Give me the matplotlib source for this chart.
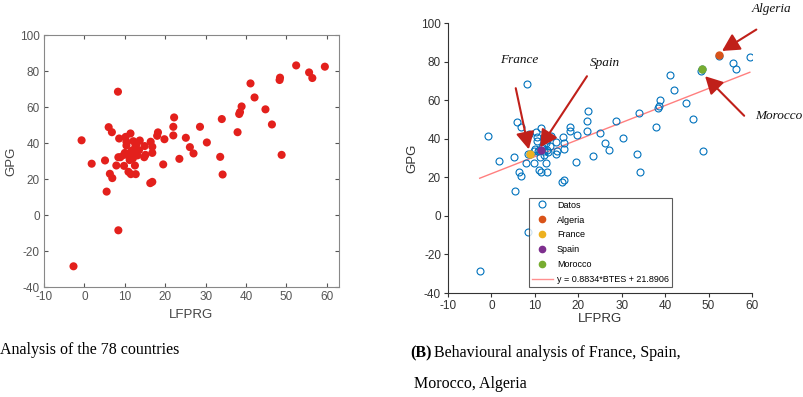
import matplotlib.pyplot as plt
from matplotlib.lines import Line2D

plt.rcParams['font.family'] = ['Liberation Sans', 'DejaVu Sans']
plt.rcParams['axes.unicode_minus'] = False

# LFPRG / GPG values for the 78 countries
lfprg = [-2.7, -0.7, 1.8, 5.1, 5.5, 6.0, 6.8, 6.3, 6.9, 8.3,
         8.4, 8.6, 8.4, 7.9, 8.9, 9.8, 9.8, 10.2, 10.4, 10.4,
         10.7, 10.9, 11.4, 11.2, 11.5, 12.1, 12.1, 12.6, 12.5, 12.7,
         12.9, 13.1, 13.7, 12.9, 11.7, 14.9, 14.8, 15.1, 16.3, 16.8,
         16.4, 16.8, 16.8, 18.0, 18.2, 19.5, 19.8, 22.0, 22.0, 22.2,
         23.5, 25.1, 26.1, 27.0, 28.6, 30.3, 33.6, 34.0, 34.2, 37.9,
         38.3, 38.5, 38.9, 41.1, 42.1, 44.8, 46.4, 48.3, 48.4, 48.8,
         52.4, 55.6, 56.4, 59.5, 10.0, 11.0, 13.5, 12.0]
gpg = [-28.5, 41.5, 28.5, 30.3, 13.0, 48.8, 46.0, 22.9, 20.5, 68.5,
       -8.5, 42.5, 32.1, 27.5, 32.1, 33.4, 27.3, 43.4, 40.7, 38.6,
       33.4, 24.0, 45.3, 30.5, 22.7, 33.4, 41.0, 37.9, 27.5, 22.7,
       34.0, 33.1, 41.4, 39.4, 35.7, 38.3, 32.1, 33.4, 17.7, 18.4,
       40.7, 37.9, 34.5, 44.0, 45.9, 28.1, 42.1, 49.0, 44.2, 54.2,
       31.2, 42.9, 37.7, 34.2, 49.0, 40.3, 32.3, 53.3, 22.5, 46.0,
       56.1, 57.2, 60.3, 73.1, 65.3, 58.7, 50.3, 75.0, 76.3, 33.4,
       83.1, 79.2, 76.1, 82.4, 34.5, 34.0, 36.0, 31.5]

countries = ['Algeria', 'France', 'Spain', 'Morocco']
country_x = [52.5, 8.8, 11.3, 48.5]
country_y = [83.6, 31.9, 33.9, 76.4]
country_colors = ['#D95319', '#EDB120', '#7E2F8E', '#77AC30']

slope = 0.8834
intercept = 21.8906

W, H = 804, 397
fig = plt.figure(figsize=(W / 100, H / 100), dpi=100)


def fx(px):
    return px / W


def fy(py):
    return 1 - py / H


# ---- (A) left panel
ax1 = fig.add_axes([fx(44), fy(287), fx(339) - fx(44), fy(35) - fy(287)])
ax1.scatter(lfprg, gpg, s=34, color='#E3201C', edgecolors='none', zorder=3)
ax1.set_xlim(-10, 63)
ax1.set_ylim(-40, 100)
ax1.set_xticks(range(-10, 61, 10))
ax1.set_yticks(range(-40, 101, 20))
ax1.tick_params(direction='in', top=True, right=True, labelsize=8.5,
                colors='#555555', length=3, pad=3)
for sp in ax1.spines.values():
    sp.set_color('#888888')
ax1.set_xlabel('LFPRG', fontsize=9.5, color='#444444', labelpad=4)
ax1.set_ylabel('GPG', fontsize=9.5, color='#444444', labelpad=2)

# ---- (B) right panel
ax2 = fig.add_axes([fx(448), fy(293), fx(752) - fx(448), fy(23) - fy(293)])
ax2.plot(lfprg, gpg, 'o', ms=5, mfc='none', mec='#0072BD', mew=0.8, zorder=3)
for name, x, y, c in zip(countries, country_x, country_y, country_colors):
    ax2.plot(x, y, 'o', ms=5, color=c, zorder=4)
xs = [min(lfprg), max(lfprg)]
ax2.plot(xs, [slope * v + intercept for v in xs], color='#FF7F7F', lw=1, zorder=2)
ax2.set_xlim(-10, 60)
ax2.set_ylim(-40, 100)
ax2.set_xticks(range(-10, 61, 10))
ax2.set_yticks(range(-40, 101, 20))
ax2.spines['top'].set_visible(False)
ax2.spines['right'].set_visible(False)
for sp in ['left', 'bottom']:
    ax2.spines[sp].set_color('#333333')
ax2.tick_params(direction='out', labelsize=8.5, colors='#333333', length=3, pad=2)
ax2.set_xlabel('LFPRG', fontsize=9.5, color='#333333', labelpad=1)
ax2.set_ylabel('GPG', fontsize=9.5, color='#333333', labelpad=2)

handles = [Line2D([], [], ls='none', marker='o', ms=5, mfc='none',
                  mec='#0072BD', mew=0.8)]
for c in country_colors:
    handles.append(Line2D([], [], ls='none', marker='o', ms=4.5, color=c))
handles.append(Line2D([], [], color='#FF9090', lw=1))
labels = ['Datos'] + countries + ['y = %.4f*BTES + %.4f' % (slope, intercept)]
leg = ax2.legend(handles, labels, loc='lower left',
                 bbox_to_anchor=(0.266, 0.022), fontsize=6.5, frameon=True,
                 fancybox=False, borderpad=0.3, labelspacing=0.66,
                 handlelength=2.4, handletextpad=0.4, borderaxespad=0)
leg.get_frame().set_edgecolor('#333333')
leg.get_frame().set_linewidth(0.8)

# arrows pointing to the four countries
arrow_col = '#C0201A'
arrows = [((8.6, 34.5), (5.6, 66.2)),
          ((11.2, 35.5), (22.0, 72.4)),
          ((53.1, 85.5), (61.0, 96.6)),
          ((49.2, 72.4), (58.2, 51.9))]
for tip, tail in arrows:
    ax2.annotate('', xy=tip, xytext=tail, annotation_clip=False,
                 arrowprops=dict(arrowstyle='-|>,head_length=0.75,head_width=0.4',
                                 color=arrow_col, lw=1.5,
                                 mutation_scale=14, shrinkA=0, shrinkB=0))

lab_font = dict(family='Liberation Serif', style='italic', fontsize=9.5,
                ha='center', va='center', color='#111111')
fig.text(fx(519), fy(60), 'France', **lab_font)
fig.text(fx(605), fy(63), 'Spain', **lab_font)
fig.text(fx(772), fy(9), 'Algeria', **lab_font)
fig.text(fx(779), fy(116), 'Morocco', **lab_font)

# captions
cap = dict(family='Liberation Serif', fontsize=11.5, va='center', color='black')
fig.text(fx(0), fy(350), 'Analysis of the 78 countries', **cap)
fig.text(fx(410), fy(353), '(B)', fontweight='bold', **cap)
fig.text(fx(434), fy(353), 'Behavioural analysis of France, Spain,', **cap)
fig.text(fx(414), fy(384), 'Morocco, Algeria', **cap)

fig.savefig('out.png', dpi=100)
